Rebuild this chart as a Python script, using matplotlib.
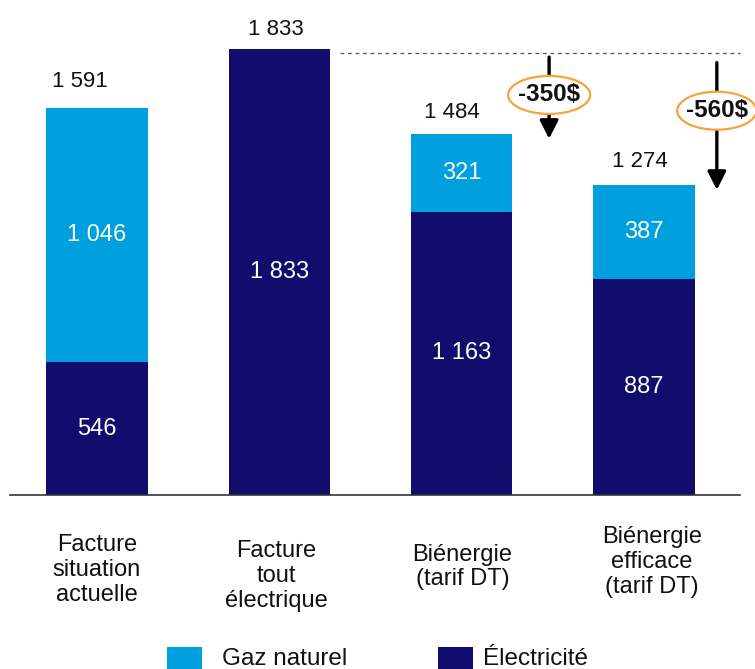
import matplotlib
matplotlib.use("Agg")
import matplotlib.pyplot as plt
from matplotlib.patches import Ellipse, Rectangle
from matplotlib.transforms import blended_transform_factory, offset_copy

plt.rcParams['font.family'] = ['Liberation Sans', 'DejaVu Sans']

# Annual energy bill by scenario ($)
categories = ["Facture\nsituation\nactuelle", "Facture\ntout\nélectrique",
              "Biénergie\n(tarif DT)", "Biénergie\nefficace\n(tarif DT)"]
electricite = [546, 1833, 1163, 887]
gaz_naturel = [1046, 0, 321, 387]
totaux = [1591, 1833, 1484, 1274]
economies = ["-350$", "-560$"]
series_names = ["Gaz naturel", "Électricité"]

NAVY = "#120C6C"
BLUE = "#009FDE"
ORANGE = "#F5A33A"

W, H = 755, 669
fig = plt.figure(figsize=(W / 100, H / 100), dpi=100)
ax = fig.add_axes([10 / W, 1 - 495 / H, 730 / W, 495 / H])

x = [0, 1, 2, 3]
ax.bar(x, electricite, width=0.555, color=NAVY, zorder=2)
ax.bar(x, gaz_naturel, width=0.555, bottom=electricite, color=BLUE, zorder=2)

ax.set_xlim(-0.477, 3.527)
ax.set_ylim(0, 2034)
for s in ["top", "right", "left"]:
    ax.spines[s].set_visible(False)
ax.spines["bottom"].set_color("#333333")
ax.spines["bottom"].set_linewidth(1.2)
ax.set_xticks([])
ax.set_yticks([])

def fmt(v):
    return f"{v:,}".replace(",", " ")

# segment values (white, inside the bars)
for i in x:
    e, g = electricite[i], gaz_naturel[i]
    ax.text(i, e / 2, fmt(e), ha="center", va="center", color="white", fontsize=17, zorder=3)
    if g:
        ax.text(i, e + g / 2, fmt(g), ha="center", va="center", color="white", fontsize=17, zorder=3)

# totals above the bars
tot_dx = [-17, -3, -10, -4]
tot_dy = [21, 14, 16, 18]
for i in x:
    tr = offset_copy(ax.transData, fig=fig, x=tot_dx[i], y=tot_dy[i], units="dots")
    ax.text(i, totaux[i], fmt(totaux[i]), ha="center", va="baseline", fontsize=16,
            color="#111111", transform=tr)

# reference line at the all-electric bill
ref = totaux[1]
tr_ref = offset_copy(ax.transData, fig=fig, x=0, y=-4, units="dots")
ax.plot([1.333, 3.527], [ref, ref], ls=(0, (3, 3)), lw=0.9, color="#555555",
        transform=tr_ref, clip_on=False)

# savings arrows with labels
arrow_x = [2.48, 3.40]
label_y = [1644, 1579]
ell_w = [0.45, 0.435]
start_shrink = [3, 7]
for k, (ax_x, j) in enumerate(zip(arrow_x, [2, 3])):
    ax.annotate("", xy=(ax_x, totaux[j] - 20), xytext=(ax_x, ref),
                xycoords=ax.transData, textcoords=tr_ref,
                arrowprops=dict(arrowstyle="-|>,head_width=0.28,head_length=0.55",
                                lw=2.4, color="black", shrinkA=start_shrink[k], shrinkB=0,
                                mutation_scale=20), zorder=4)
    ax.add_patch(Ellipse((ax_x, label_y[k]), ell_w[k], 156, facecolor="white",
                         edgecolor=ORANGE, lw=1.6, zorder=5, clip_on=False))
    ax.text(ax_x, label_y[k], economies[k], ha="center", va="center", fontsize=17.5,
            fontweight="bold", color="#111111", zorder=6)

# category labels under the axis
lab_tr = blended_transform_factory(ax.transData, fig.transFigure)
lab_y = [570, 576, 567, 562]
lab_dx = [0, -0.015, 0.005, 0.045]
for i in x:
    ax.text(i + lab_dx[i], 1 - lab_y[i] / H, categories[i], ha="center", va="center",
            fontsize=17, linespacing=1.15, color="#111111", transform=lab_tr)

# legend
for (x0, tx), col, name in zip([(167, 222), (438, 483)], [BLUE, NAVY], series_names):
    fig.add_artist(Rectangle((x0 / W, 1 - 682 / H), 35 / W, 35 / H, transform=fig.transFigure,
                             facecolor=col, edgecolor="none"))
    fig.text(tx / W, 1 - 665 / H, name, ha="left", va="baseline", fontsize=17.5, color="#111111")

fig.savefig("out.png", dpi=100)
